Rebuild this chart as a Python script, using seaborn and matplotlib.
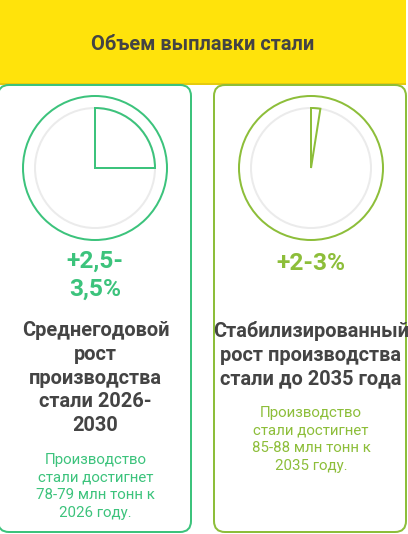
import matplotlib
matplotlib.use("Agg")
import matplotlib.pyplot as plt
from matplotlib.patches import Circle, Wedge, FancyBboxPatch, Rectangle
import seaborn as sns

# data
header = "Объем выплавки стали"
values = ["+2,5-\n3,5%", "+2-3%"]
shares = [0.25, 0.025]
headings = ["Среднегодовой\nрост\nпроизводства\nстали 2026-\n2030",
            "Стабилизированный\nрост производства\nстали до 2035 года"]
notes = ["Производство\nстали достигнет\n78-79 млн тонн к\n2026 году.",
         "Производство\nстали достигнет\n85-88 млн тонн к\n2035 году."]
colors = ["#3cc37c", "#8dbe3a"]

sns.set_theme(style="white")
plt.rcParams['font.family'] = ['Roboto', 'DejaVu Sans']

W, H = 408, 534
fig = plt.figure(figsize=(W / 100, H / 100), dpi=100)
ax = fig.add_axes([0, 0, 1, 1])
ax.set_xlim(0, W)
ax.set_ylim(H, 0)
ax.axis('off')

px = 0.72  # px -> pt

# header band
ax.add_patch(Rectangle((0, 0), 406, 85, facecolor="#ffe30b", edgecolor="none"))
ax.add_patch(Rectangle((0, 82.5), 406, 2.5, facecolor="#e6cb0e", edgecolor="none"))
ax.text(203, 44, header, ha='center', va='center', fontsize=20 * px,
        fontweight='bold', color="#444444")

cards = [(-2, 193), (214, 192)]
centers = [95, 311]
cy = 168
head_y = [321, 321]
note_y = [453, 406]

for i in range(2):
    c = colors[i]
    x0, w = cards[i]
    ax.add_patch(FancyBboxPatch((x0, 85), w, 447, boxstyle="round,pad=0,rounding_size=11",
                                facecolor="white", edgecolor=c, linewidth=2 * px))
    cx = centers[i]
    ax.add_patch(Circle((cx, cy), 72, facecolor="none", edgecolor=c, linewidth=2 * px))
    ax.add_patch(Circle((cx, cy), 60, facecolor="none", edgecolor="#ebebeb", linewidth=2 * px))
    ax.add_patch(Wedge((cx, cy), 60, -90, -90 + 360 * shares[i], facecolor="none",
                       edgecolor=c, linewidth=2 * px))
    ax.text(cx, 250 if i == 0 else 263, values[i], ha='center', va='top' if i == 0 else 'center',
            fontsize=24.5 * px, fontweight='bold', color=c, linespacing=1.28)
    ax.text(x0 + w / 2 + 1, head_y[i], headings[i], ha='center', va='top',
            fontsize=20 * px, fontweight='bold', color="#444444", linespacing=1.32)
    ax.text(x0 + w / 2 + 1, note_y[i], notes[i], ha='center', va='top',
            fontsize=15 * px, color=c, linespacing=1.33)

fig.savefig("out.png", dpi=100)
